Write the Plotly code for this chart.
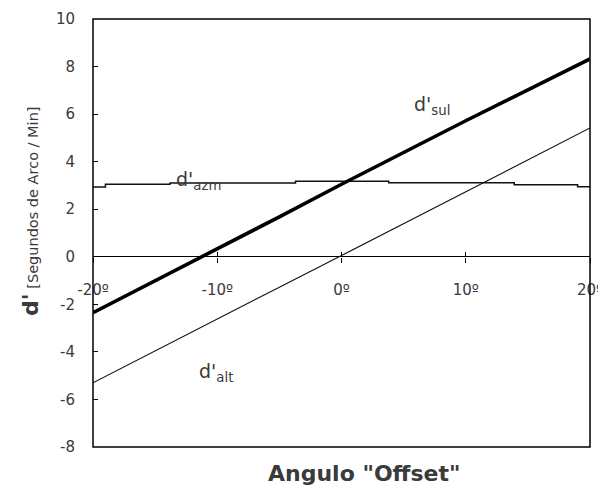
import plotly.graph_objects as go

# Data
angles = [-20, -15, -10, -5, 0, 5, 10, 15, 20]
d_sul = [-2.35, -1.02, 0.33, 1.68, 3.05, 4.40, 5.72, 7.02, 8.32]
d_alt = [-5.30, -3.95, -2.62, -1.28, 0.05, 1.40, 2.75, 4.10, 5.42]
azm_angles = [-20, -19, -13.8, -3.7, 3.8, 13.9, 19, 20]
d_azm = [2.93, 3.05, 3.10, 3.18, 3.11, 3.03, 2.94, 2.94]

x_ticks = [-20, -10, 0, 10, 20]
x_labels = ["-20º", "-10º", "0º", "10º", "20º"]
y_ticks = [-8, -6, -4, -2, 0, 2, 4, 6, 8, 10]
y_labels = ["-8", "-6", "-4", "-2", "0", "2", "4", "6", "8", "10"]

FONT = "DejaVu Sans, Verdana, sans-serif"
TXT = "#3a3a3a"

fig = go.Figure()
fig.add_trace(go.Scatter(x=azm_angles, y=d_azm, mode="lines", line_shape="hv",
                         line=dict(color="#111111", width=1.5), showlegend=False))
fig.add_trace(go.Scatter(x=angles, y=d_alt, mode="lines",
                         line=dict(color="#111111", width=1.1), showlegend=False))
fig.add_trace(go.Scatter(x=angles, y=d_sul, mode="lines",
                         line=dict(color="#000000", width=3.6), showlegend=False))
# dummy trace for second x-axis (inside ticks)
fig.add_trace(go.Scatter(x=[-20, 20], y=[None, None], xaxis="x2", mode="lines",
                         showlegend=False, hoverinfo="skip"))

ypos0 = 8 / 18.0

fig.update_layout(
    width=598, height=484,
    margin=dict(l=85, r=16, t=11, b=45),
    paper_bgcolor="white", plot_bgcolor="white",
    font=dict(family=FONT, color=TXT, size=15),
    xaxis=dict(range=[-20, 20], anchor="free", position=ypos0, automargin=False,
               tickvals=x_ticks, ticktext=x_labels, ticks="outside",
               ticklen=5, tickwidth=1.2, tickcolor="#000",
               showline=False, showgrid=False, zeroline=False,
               ticklabelstandoff=14, tickfont=dict(size=15, color=TXT)),
    xaxis2=dict(range=[-20, 20], anchor="free", position=ypos0, overlaying="x",
                automargin=False,
                tickvals=x_ticks, ticks="inside", ticklen=5, tickwidth=1.2,
                tickcolor="#000", showticklabels=False, showline=False,
                showgrid=False, zeroline=False),
    yaxis=dict(range=[-8, 10], tickvals=y_ticks, ticktext=y_labels,
               ticks="inside", ticklen=5, automargin=False,
               tickwidth=1.2, tickcolor="#000", showline=False, showgrid=False,
               zeroline=True, zerolinecolor="#000", zerolinewidth=1.2,
               tickfont=dict(size=15, color=TXT), ticklabelstandoff=17),
    shapes=[dict(type="rect", xref="paper", yref="paper", x0=0, x1=1, y0=0, y1=1,
                 line=dict(color="#000", width=1.5), fillcolor="rgba(0,0,0,0)")],
    annotations=[
        dict(text="<b>Angulo \"Offset\"</b>", xref="paper", yref="paper",
             x=(364 - 93) / 497, y=-(473 - 447) / 428, showarrow=False,
             font=dict(size=22, color=TXT, family=FONT), xanchor="center", yanchor="middle"),
        dict(text="<b><span style='font-size:22px'>d'</span></b> <span style='font-size:14.5px'>[Segundos de Arco / Min]</span>",
             xref="paper", yref="paper", x=-(93 - 30) / 497, y=(447 - 211) / 428,
             textangle=-90, showarrow=False, xanchor="center", yanchor="middle",
             font=dict(color=TXT, family=FONT)),
        dict(text="d'<sub>sul</sub>", x=7.25, y=6.35, showarrow=False,
             font=dict(size=19, color=TXT, family=FONT)),
        dict(text="d'<sub>azm</sub>", x=-11.5, y=3.2, showarrow=False,
             font=dict(size=19, color=TXT, family=FONT)),
        dict(text="d'<sub>alt</sub>", x=-10.1, y=-4.87, showarrow=False,
             font=dict(size=19, color=TXT, family=FONT)),
    ],
)

fig.write_html("out.html")
